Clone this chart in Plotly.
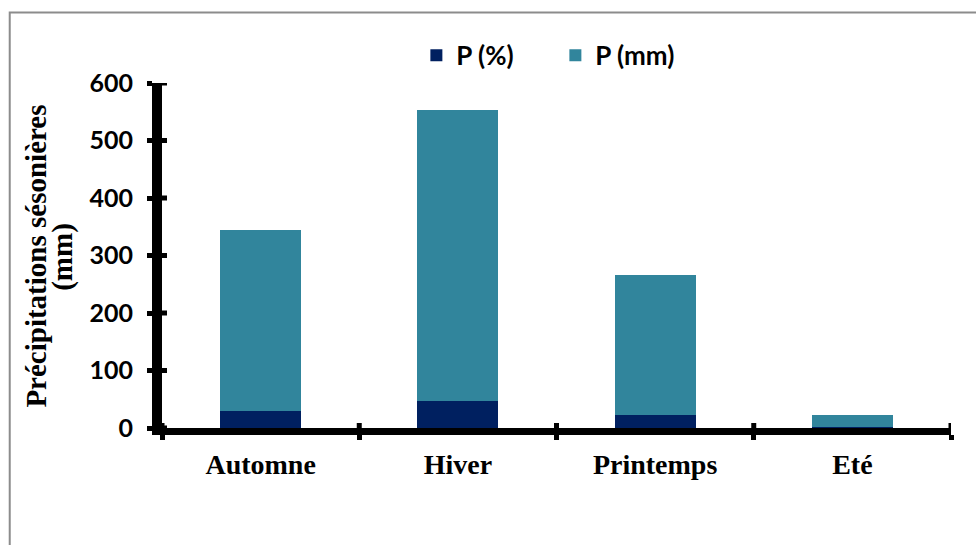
import plotly.graph_objects as go

# Seasonal precipitation
seasons = ["Automne", "Hiver", "Printemps", "Eté"]
p_pct = [29.0, 46.7, 22.4, 1.9]        # share of annual total (%)
p_mm = [315, 506, 243, 20]             # seasonal amount (mm)
y_ticks = [0, 100, 200, 300, 400, 500, 600]

DARK = "#002060"
TEAL = "#31859C"
SANS = "Lato"
SERIF = "Liberation Serif"

W, H = 976, 545
M = dict(l=162, r=25, t=83, b=117)
PLOT_W = W - M["l"] - M["r"]
PLOT_H = H - M["t"] - M["b"]
TICK_LEN = 5
TICK_W = 5

fig = go.Figure()
fig.add_trace(go.Bar(x=seasons, y=p_pct, name="P (%)", marker_color=DARK,
                     marker_line_width=0, width=0.41))
fig.add_trace(go.Bar(x=seasons, y=p_mm, name="P (mm)", marker_color=TEAL,
                     marker_line_width=0, width=0.41))

fig.update_layout(
    barmode="stack",
    width=W, height=H,
    margin=M,
    paper_bgcolor="white", plot_bgcolor="white",
    xaxis=dict(type="category", categoryorder="array", categoryarray=seasons,
               range=[-0.5, len(seasons) - 0.5], showline=True, linewidth=7,
               linecolor="black", ticks="outside", tickson="boundaries",
               ticklen=TICK_LEN, tickwidth=TICK_W, tickcolor="black",
               ticklabelstandoff=5, showgrid=False, zeroline=False,
               tickfont=dict(family=SERIF, size=28, color="black", weight="bold")),
    yaxis=dict(range=[0, 600], tickvals=y_ticks, showline=True, linewidth=10,
               linecolor="black", ticks="outside", ticklen=TICK_LEN,
               tickwidth=TICK_W, tickcolor="black", ticklabelstandoff=9,
               showgrid=False, zeroline=False,
               tickfont=dict(family=SANS, size=25, color="black", weight="bold")),
    legend=dict(orientation="h", x=0.3224, y=1.08, xanchor="left", yanchor="middle",
                traceorder="normal", entrywidth=94, entrywidthmode="pixels",
                font=dict(family=SANS, size=26, color="black", weight="bold"),
                bgcolor="rgba(0,0,0,0)"),
    showlegend=True,
)

# inner halves of the crossing tick marks
for v in y_ticks:
    fig.add_shape(type="line", xref="paper", yref="y",
                  x0=0, x1=TICK_LEN / PLOT_W, y0=v, y1=v,
                  line=dict(color="black", width=TICK_W))
for i in range(len(seasons) + 1):
    b = i - 0.5
    fig.add_shape(type="line", xref="x", yref="paper",
                  x0=b, x1=b, y0=0, y1=TICK_LEN / PLOT_H,
                  line=dict(color="black", width=TICK_W))

# two-line y-axis title, one annotation per line
title_font = dict(family=SERIF, size=29, color="black", weight="bold")
fig.add_annotation(text="Précipitations sésonières", textangle=-90,
                   xref="paper", yref="paper", x=-0.160, y=0.499,
                   xanchor="center", yanchor="middle", showarrow=False,
                   font=title_font)
fig.add_annotation(text="(mm)", textangle=-90,
                   xref="paper", yref="paper", x=-0.126, y=0.495,
                   xanchor="center", yanchor="middle", showarrow=False,
                   font=title_font)

# chart frame
fig.add_shape(type="rect", xref="paper", yref="paper",
              x0=-0.193, x1=1.2, y0=-0.6, y1=1.204,
              line=dict(color="#8c8c8c", width=2), fillcolor="rgba(0,0,0,0)",
              layer="below")

fig.write_html("out.html")
